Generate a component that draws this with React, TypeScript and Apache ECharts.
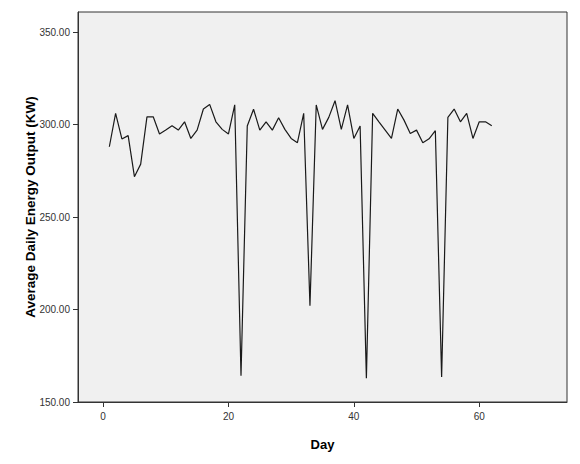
import React, { useEffect, useRef } from 'react';
import * as echarts from 'echarts';

// day index 1..62
const days: number[] = Array.from({ length: 62 }, (_, i) => i + 1);

const output: number[] = [
  288.1, 306.2, 292.3, 294.1, 271.9, 278.7, 304.3, 304.3, 295.0, 297.1,
  299.5, 297.1, 301.6, 292.6, 297.1, 308.5, 311.0, 301.6, 297.5, 295.0,
  310.8, 164.2, 299.3, 308.4, 297.1, 301.6, 297.1, 303.8, 297.5, 292.6,
  290.3, 306.2, 202.1, 310.7, 297.5, 304.0, 313.0, 297.5, 310.7, 292.6,
  299.3, 162.8, 306.2, 301.6, 297.1, 292.6, 308.5, 302.5, 295.3, 297.1,
  290.3, 292.4, 296.8, 163.6, 304.0, 308.5, 301.6, 306.2, 292.6, 301.6,
  301.6, 299.5,
];

const xTicks: number[] = [0, 20, 40, 60];
const yTicks: number[] = [150, 200, 250, 300, 350];

const FONT = '"Liberation Sans", Arial, sans-serif';

const App: React.FC = () => {
  const chartRef = useRef<HTMLDivElement | null>(null);

  useEffect(() => {
    document.body.style.margin = '0';
    if (!chartRef.current) return;
    const chart = echarts.init(chartRef.current, undefined, { renderer: 'svg' });

    const option: echarts.EChartsOption = {
      animation: false,
      backgroundColor: '#ffffff',
      grid: {
        left: 78,
        right: 13,
        top: 12,
        bottom: 62,
        show: true,
        backgroundColor: '#f0f0f0',
        borderColor: '#333333',
        borderWidth: 1,
      },
      xAxis: {
        type: 'value',
        min: -4,
        max: 74,
        name: 'Day',
        nameLocation: 'middle',
        nameGap: 36,
        nameMoveOverlap: false,
        nameTextStyle: { fontFamily: FONT, fontSize: 13, fontWeight: 'bold', color: '#000' },
        splitLine: { show: false },
        axisLine: { show: true, onZero: false, lineStyle: { color: '#333333' } },
        axisTick: { show: true, length: 5, customValues: xTicks, lineStyle: { color: '#333333' } },
        axisLabel: { customValues: xTicks, margin: 9, fontFamily: FONT, fontSize: 10, color: '#333333' },
      },
      yAxis: {
        type: 'value',
        min: 150,
        max: 361,
        name: 'Average Daily Energy Output (KW)',
        nameLocation: 'middle',
        nameGap: 41,
        nameMoveOverlap: false,
        nameTextStyle: { fontFamily: FONT, fontSize: 13.5, fontWeight: 'bold', color: '#000' },
        splitLine: { show: false },
        axisLine: { show: true, onZero: false, lineStyle: { color: '#333333' } },
        axisTick: { show: true, length: 5, customValues: yTicks, lineStyle: { color: '#333333' } },
        axisLabel: {
          customValues: yTicks,
          margin: 8,
          fontFamily: FONT,
          fontSize: 10,
          color: '#333333',
          formatter: (v: number) => v.toFixed(2),
        },
      },
      series: [
        {
          type: 'line',
          data: days.map((d, i) => [d, output[i]]),
          showSymbol: false,
          lineStyle: { color: '#1a1a1a', width: 1.2 },
        },
      ],
    } as echarts.EChartsOption;

    chart.setOption(option);
    return () => {
      chart.dispose();
    };
  }, []);

  return <div ref={chartRef} style={{ width: '580px', height: '464px' }} />;
};

export default App;
